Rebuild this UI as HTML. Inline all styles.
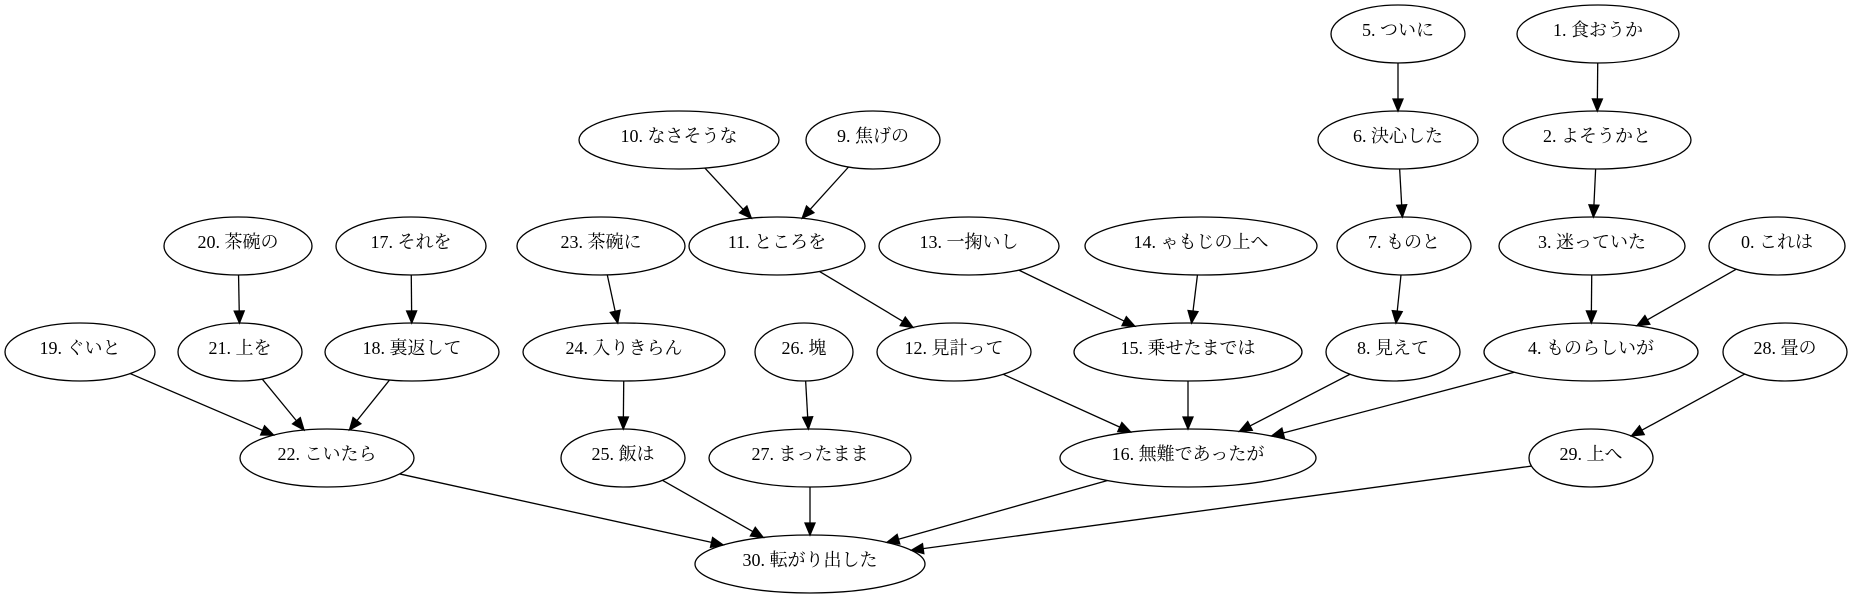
<!DOCTYPE html>
<html><head><meta charset="utf-8"><style>
html,body{margin:0;padding:0;background:#fff;width:1852px;height:599px;overflow:hidden}
text{font-family:"Liberation Serif","Noto Serif CJK JP","Noto Sans CJK JP",serif;font-size:18px;fill:#000}
</style></head><body>
<svg id="s" width="1852" height="599" xmlns="http://www.w3.org/2000/svg"></svg>
<script>
var R=[34,140,246,352,458,564];
var N={
5:[1398,0,67,"5. ついに"],1:[1598,0,81,"1. 食おうか"],
10:[679,1,100,"10. なさそうな"],9:[873,1,67,"9. 焦げの"],6:[1398,1,80,"6. 決心した"],2:[1597,1,94,"2. よそうかと"],
20:[238,2,74,"20. 茶碗の"],17:[411,2,75,"17. それを"],23:[601,2,84,"23. 茶碗に"],11:[777,2,88,"11. ところを"],13:[969,2,90,"13. 一掬いし"],14:[1201,2,116,"14. ゃもじの上へ"],7:[1404,2,67,"7. ものと"],3:[1592,2,93,"3. 迷っていた"],0:[1777,2,68,"0. これは"],
19:[80,3,75,"19. ぐいと"],21:[240,3,62,"21. 上を"],18:[412,3,87,"18. 裏返して"],24:[624,3,101,"24. 入りきらん"],26:[804,3,49,"26. 塊"],12:[954,3,77,"12. 見計って"],15:[1188,3,114,"15. 乗せたまでは"],8:[1393,3,67,"8. 見えて"],4:[1591,3,107,"4. ものらしいが"],28:[1785,3,62,"28. 畳の"],
22:[327,4,87,"22. こいたら"],25:[623,4,62,"25. 飯は"],27:[810,4,101,"27. まったまま"],16:[1188,4,128,"16. 無難であったが"],29:[1591,4,62,"29. 上へ"],
30:[810,5,115,"30. 転がり出した"]};
var E=[[5,6],[6,7],[7,8],[8,16],[1,2],[2,3],[3,4],[0,4],[4,16],[28,29],[29,30],[10,11],[9,11],[11,12],[12,16],[13,15],[14,15],[15,16],[16,30],[20,21],[21,22],[17,18],[18,22],[19,22],[22,30],[23,24],[24,25],[25,30],[26,27],[27,30]];
var h='';
function ry(k){return 29;}
function pt(k,dx,dy){var n=N[k],rx=n[2],r=ry(k);var t=1/Math.sqrt((dx/rx)*(dx/rx)+(dy/r)*(dy/r));return [n[0]+dx*t,R[n[1]]+dy*t];}
E.forEach(function(e){var a=N[e[0]],b=N[e[1]];var dx=b[0]-a[0],dy=R[b[1]]-R[a[1]];
var p=pt(e[0],dx,dy),q=pt(e[1],-dx,-dy);var L=Math.hypot(q[0]-p[0],q[1]-p[1]);var ux=(q[0]-p[0])/L,uy=(q[1]-p[1])/L;
var bx=q[0]-ux*12,by=q[1]-uy*12;
h+='<line x1="'+p[0]+'" y1="'+p[1]+'" x2="'+bx+'" y2="'+by+'" stroke="#000" stroke-width="1.3"/>';
h+='<polygon points="'+q[0]+','+q[1]+' '+(bx-uy*5)+','+(by+ux*5)+' '+(bx+uy*5)+','+(by-ux*5)+'" fill="#000" stroke="#000" stroke-width="1.3"/>';});
for(var k in N){var n=N[k];h+='<ellipse cx="'+n[0]+'" cy="'+R[n[1]]+'" rx="'+n[2]+'" ry="'+ry(+k)+'" fill="none" stroke="#000" stroke-width="1.3"/>';
h+='<text x="'+n[0]+'" y="'+(R[n[1]]-4)+'" text-anchor="middle" dominant-baseline="central">'+n[3]+'</text>';}
document.getElementById('s').innerHTML=h;
</script>
</body></html>
